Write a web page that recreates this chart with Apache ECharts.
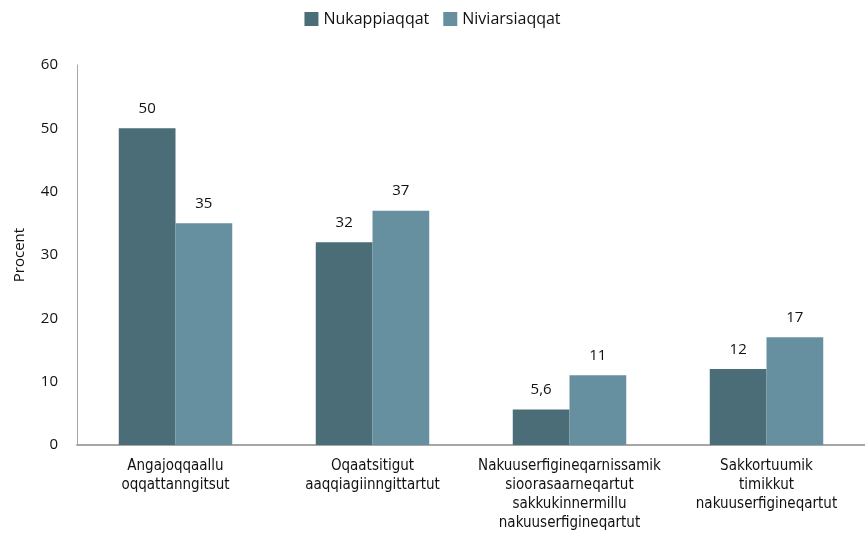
<!DOCTYPE html>
<html>
<head>
<meta charset="utf-8">
<script src="https://cdn.jsdelivr.net/npm/echarts@6/dist/echarts.min.js"></script>
<style>
  html, body { margin: 0; padding: 0; background: #fff; }
  #chart { width: 865px; height: 534px; }
</style>
</head>
<body>
<div id="chart"></div>
<script>
// kategorier og værdier
const categories = [
  'Angajoqqaallu\noqqattanngitsut',
  'Oqaatsitigut\naaqqiagiinngittartut',
  'Nakuuserfigineqarnissamik\nsioorasaarneqartut\nsakkukinnermillu\nnakuuserfigineqartut',
  'Sakkortuumik\ntimikkut\nnakuuserfigineqartut'
];
const nukappiaqqat = [50, 32, 5.6, 12];
const niviarsiaqqat = [35, 37, 11, 17];
const yTicks = [0, 10, 20, 30, 40, 50, 60];

const chart = echarts.init(document.getElementById('chart'));

const labelFmt = p => String(p.value).replace('.', ',');

chart.setOption({
  animation: false,
  color: ['#4A6D77', '#6690A0'],
  legend: {
    top: 6,
    left: 'center',
    itemWidth: 14,
    itemHeight: 14,
    itemGap: 14,
    icon: 'rect',
    textStyle: { fontFamily: 'Open Sans', fontSize: 16, color: '#111' },
    data: ['Nukappiaqqat', 'Niviarsiaqqat']
  },
  grid: { left: 77, right: -8, top: 65, bottom: 89 },
  xAxis: {
    type: 'category',
    data: categories,
    axisLine: { lineStyle: { color: '#a6a6a6', width: 2 } },
    axisTick: { show: false },
    axisLabel: {
      interval: 0,
      margin: 12,
      lineHeight: 19,
      fontFamily: 'DejaVu Sans Condensed',
      fontSize: 15,
      color: '#111'
    }
  },
  yAxis: {
    type: 'value',
    min: yTicks[0],
    max: yTicks[yTicks.length - 1],
    interval: 10,
    name: 'Procent',
    nameLocation: 'middle',
    nameGap: 50,
    nameTextStyle: { fontFamily: 'Open Sans', fontSize: 15, color: '#111' },
    axisLine: { show: true, lineStyle: { color: '#a6a6a6', width: 1 } },
    axisTick: { show: false },
    splitLine: { show: false },
    axisLabel: {
      margin: 19,
      fontFamily: 'Open Sans',
      fontSize: 15,
      fontWeight: 500,
      color: '#111'
    }
  },
  series: [
    {
      name: 'Nukappiaqqat',
      type: 'bar',
      data: nukappiaqqat,
      barGap: '0%',
      barCategoryGap: '42.4%',
      label: {
        show: true, position: 'top', distance: 12,
        fontFamily: 'Open Sans', fontSize: 15, fontWeight: 500, color: '#111',
        formatter: labelFmt
      }
    },
    {
      name: 'Niviarsiaqqat',
      type: 'bar',
      data: niviarsiaqqat,
      barGap: '0%',
      barCategoryGap: '42.4%',
      label: {
        show: true, position: 'top', distance: 12,
        fontFamily: 'Open Sans', fontSize: 15, fontWeight: 500, color: '#111',
        formatter: labelFmt
      }
    }
  ]
});
</script>
</body>
</html>
